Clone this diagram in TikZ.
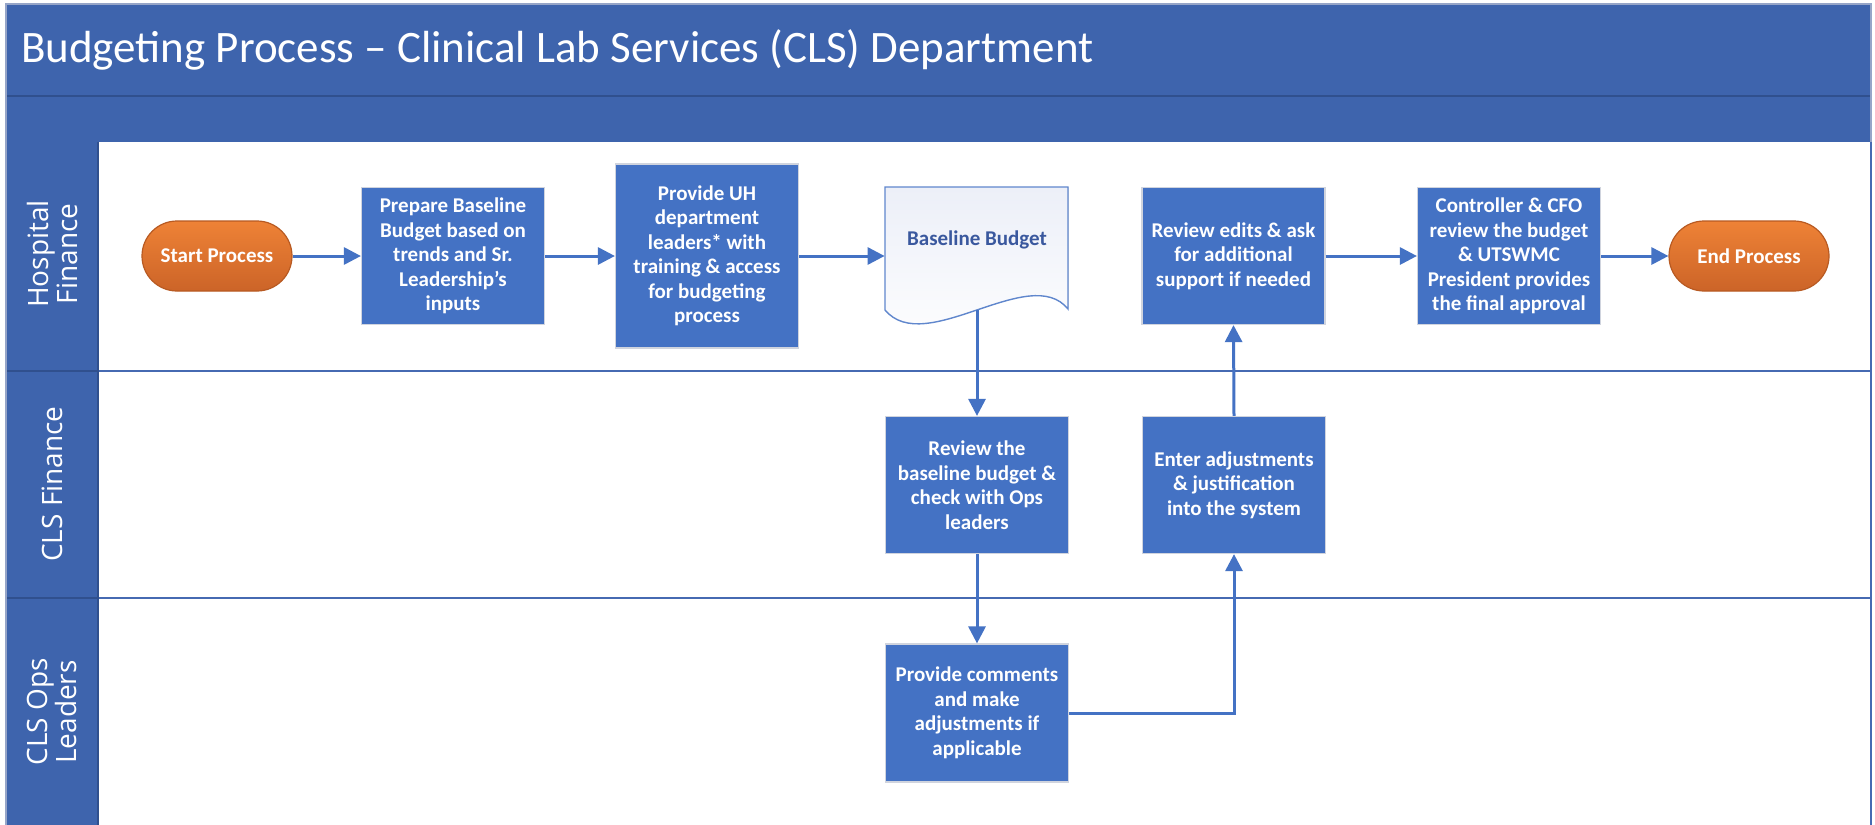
\documentclass[tikz,border=0pt]{standalone}
\usepackage{fontspec}
\setmainfont{Carlito}
\newfontfamily\lanefont{Open Sans}
\usetikzlibrary{arrows.meta,calc}
\definecolor{hdr}{RGB}{62,100,173}
\definecolor{hdrdark}{RGB}{48,80,142}
\definecolor{boxblue}{RGB}{68,114,196}
\definecolor{boxedge}{RGB}{208,212,222}
\definecolor{lanel}{RGB}{70,106,178}
\definecolor{orlight}{RGB}{238,130,54}
\definecolor{ordark}{RGB}{204,100,40}
\definecolor{oredge}{RGB}{184,90,34}
\definecolor{doctext}{RGB}{58,88,158}
\definecolor{docshade}{RGB}{236,239,248}
\definecolor{frameedge}{RGB}{150,165,200}
\tikzset{
  procbox/.style={draw=boxedge, line width=0.6pt, fill=boxblue, text=white,
    font=\bfseries\fontsize{10.5}{12.25}\selectfont, align=center, inner sep=1pt,
    minimum width=91.5pt, minimum height=68.5pt},
  terminal/.style={draw=oredge, line width=0.6pt, top color=orlight, bottom color=ordark,
    text=white, font=\bfseries\fontsize{10.5}{12.25}\selectfont, rounded corners=17.5pt,
    minimum height=35pt},
  lanelabel/.style={rotate=90, text=white, align=center,
    font=\lanefont\fontsize{14}{14.5}\selectfont},
  flow/.style={draw=boxblue, line width=1.5pt, -{Triangle[length=8.5pt,width=8.5pt]}},
}
\begin{document}
\begin{tikzpicture}[x=0.5pt,y=-0.5pt]
\useasboundingbox (0,0) rectangle (1875,825);
% frame and header
\fill[white] (0,0) rectangle (1875,825);
\fill[hdr] (6,4) rectangle (1871,142);
\draw[hdrdark, line width=1pt] (6,96) -- (1871,96);
\fill[hdr] (6,142) rectangle (98,825);
\draw[hdrdark, line width=1pt] (6,371) -- (98,371);
\draw[hdrdark, line width=1pt] (6,598) -- (98,598);
\draw[lanel, line width=1pt] (98,371) -- (1871,371);
\draw[lanel, line width=1pt] (98,598) -- (1871,598);
\draw[frameedge, line width=0.8pt] (6,830) -- (6,4) -- (1871,4) -- (1871,830);
\draw[lanel, line width=0.8pt] (1871,142) -- (1871,830);
\draw[hdrdark, line width=0.6pt] (98,142) -- (98,830);

\node[anchor=west, text=white, font=\fontsize{22.5}{26}\selectfont] (title) at (14,50)
  {Budgeting Process – Clinical Lab Services (CLS) Department};

% lane labels
\node[lanelabel] (lane1) at (52,254) {Hospital\\Finance};
\node[lanelabel] (lane2) at (52,484) {CLS Finance};
\node[lanelabel] (lane3) at (52,712) {CLS Ops\\Leaders};

% nodes
\node[terminal, minimum width=75pt] (start) at (217,256) {Start Process};
\node[procbox] (prep) at (453,256) {Prepare Baseline\\Budget based on\\trends and Sr.\\Leadership’s\\inputs};
\node[procbox, minimum height=92pt] (prov) at (707,256) {Provide UH\\department\\leaders* with\\training \& access\\for budgeting\\process};
\node[minimum width=91.5pt, minimum height=69pt, inner sep=0pt] (doc) at (976.5,256) {};
\fill[top color=docshade, bottom color=white, draw=boxblue!85, line width=0.7pt]
  (885,187) -- (1068,187) -- (1068,309) .. controls (1030,262) and (925,358) .. (885,310) -- cycle;
\node[text=doctext, font=\bfseries\fontsize{10.5}{12.25}\selectfont] (doctxt) at (977,240) {Baseline Budget};
\coordinate (docb) at (977,310);
\node[procbox] (rev) at (1233.5,256) {Review edits \& ask\\for additional\\support if needed};
\node[procbox] (ctrl) at (1509,256) {Controller \& CFO\\review the budget\\\& UTSWMC\\President provides\\the final approval};
\node[terminal, minimum width=80pt] (endp) at (1749,256) {End Process};
\node[procbox] (revb) at (977,485) {Review the\\baseline budget \&\\check with Ops\\leaders};
\node[procbox] (enter) at (1234,485) {Enter adjustments\\\& justification\\into the system};
\node[procbox, minimum height=69pt] (comm) at (977,713) {Provide comments\\and make\\adjustments if\\applicable};

% connectors
\draw[flow] (start) -- (prep);
\draw[flow] (prep) -- (prov);
\draw[flow] (prov.east) -- (doc.west);
\draw[flow] (docb) -- (revb.north);
\draw[flow] (revb) -- (comm);
\draw[flow] (comm.east) -| (enter.south);
\draw[flow] (enter.north) -- (rev.south);
\draw[flow] (rev) -- (ctrl);
\draw[flow] (ctrl) -- (endp);
\end{tikzpicture}
\end{document}
